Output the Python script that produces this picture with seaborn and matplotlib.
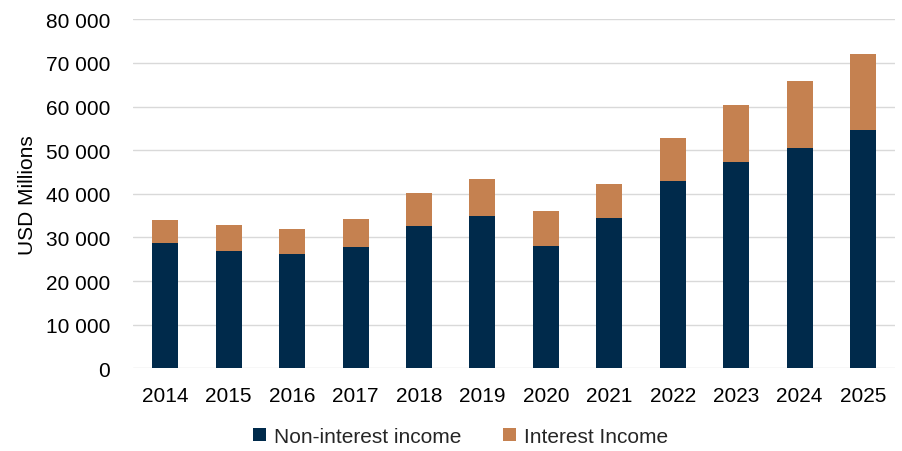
import numpy as np
import pandas as pd
import matplotlib.pyplot as plt
import seaborn as sns

# Values (USD millions)
years = ['2014', '2015', '2016', '2017', '2018', '2019',
         '2020', '2021', '2022', '2023', '2024', '2025']
non_interest = [28700, 26800, 26300, 27900, 32600, 34900,
                28000, 34500, 42900, 47300, 50400, 54600]
interest = [5400, 6000, 5700, 6400, 7600, 8600,
            8000, 7800, 9900, 13100, 15500, 17400]

navy = '#002A4B'
orange = '#C58150'

df = pd.DataFrame({'year': years, 'non_interest': non_interest, 'interest': interest})
df['total'] = df['non_interest'] + df['interest']

sns.set_theme(style='white')
plt.rcParams['font.family'] = ['Liberation Sans', 'DejaVu Sans']

fig, ax = plt.subplots(figsize=(9.02, 4.52), dpi=100)
fig.subplots_adjust(left=0.148, right=0.992, top=0.955, bottom=0.183)

# stacked: draw total in orange, then non-interest on top of it
sns.barplot(data=df, x='year', y='total', color=orange, width=0.41,
            saturation=1, linewidth=0, ax=ax, label='Interest Income')
sns.barplot(data=df, x='year', y='non_interest', color=navy, width=0.41,
            saturation=1, linewidth=0, ax=ax, label='Non-interest income')

ax.set_ylim(0, 80000)
ax.set_yticks(np.arange(0, 80001, 10000))
ax.set_yticklabels([f'{v:,}'.replace(',', ' ') for v in range(0, 80001, 10000)])
ax.yaxis.grid(True, color='#D9D9D9', linewidth=1)
ax.set_axisbelow(True)
sns.despine(ax=ax, left=True, bottom=True)
ax.tick_params(axis='both', length=0, labelsize=15, colors='black')
ax.tick_params(axis='y', pad=17)
ax.tick_params(axis='x', pad=13)
ax.set_xlabel('')
ax.set_ylabel('USD Millions', fontsize=15, color='black', labelpad=6)

handles, labels = ax.get_legend_handles_labels()
order = [labels.index('Non-interest income'), labels.index('Interest Income')]
ax.legend([handles[i] for i in order], [labels[i] for i in order],
          loc='upper center', bbox_to_anchor=(0.43, -0.115), ncol=2,
          frameon=False, fontsize=15, handlelength=0.6, handleheight=0.6,
          handletextpad=0.4, columnspacing=2.0)

fig.savefig('out.png', dpi=100)
